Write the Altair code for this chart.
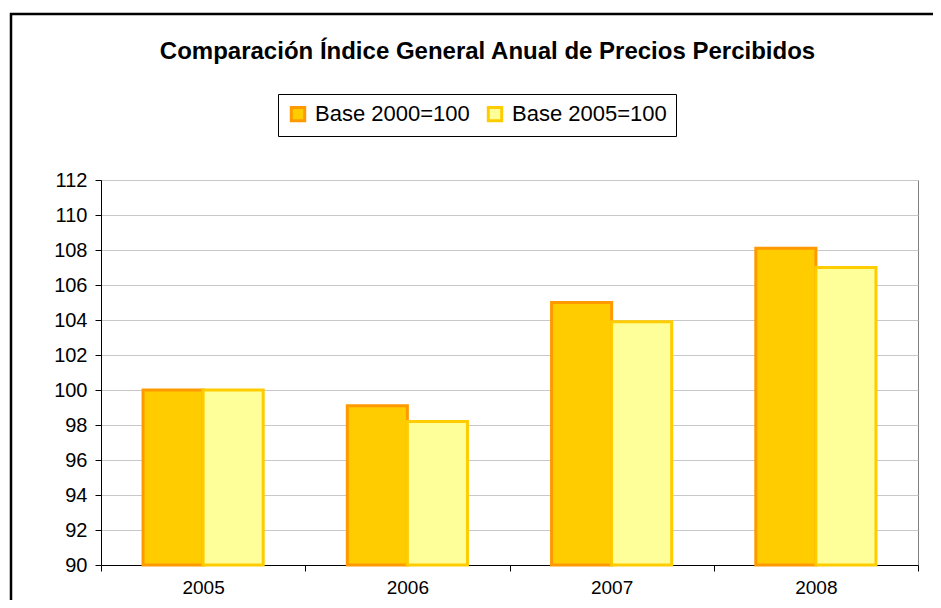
import altair as alt
import pandas as pd

years = ["2005", "2006", "2007", "2008"]
base2000 = [100.0, 99.1, 105.0, 108.1]
base2005 = [100.0, 98.2, 103.9, 107.0]
series_names = ["Base 2000=100", "Base 2005=100"]
fills = ["#FFCC00", "#FFFF99"]
strokes = ["#FF9900", "#FFCC00"]

rows = []
for i, y in enumerate(years):
    rows.append({"year": y, "series": series_names[0], "value": base2000[i]})
    rows.append({"year": y, "series": series_names[1], "value": base2005[i]})
df = pd.DataFrame(rows)

FONT = "Liberation Sans"

legend_kw = dict(title=None, orient="none", legendX=177, legendY=-86,
                 direction="horizontal", strokeColor="black",
                 fillColor="white", padding=9,
                 labelFont=FONT, labelFontSize=22, labelColor="black",
                 symbolType="square", symbolSize=180,
                 symbolStrokeWidth=3, columnPadding=12, labelOffset=6)

bars = alt.Chart(df).mark_bar(strokeWidth=3, clip=False).encode(
    x=alt.X("year:N", sort=years,
            scale=alt.Scale(paddingInner=0, paddingOuter=0),
            axis=alt.Axis(title=None, labelAngle=0, tickBand="extent",
                          domainColor="black", tickColor="black", tickSize=6,
                          labelFont=FONT, labelFontSize=19, labelColor="black",
                          labelPadding=7, grid=False)),
    xOffset=alt.XOffset("series:N", sort=series_names,
                        scale=alt.Scale(paddingOuter=0.7, paddingInner=0)),
    y=alt.Y("value:Q",
            scale=alt.Scale(domain=[90, 112], nice=False, zero=False),
            axis=alt.Axis(title=None, values=list(range(90, 113, 2)),
                          domainColor="black", tickColor="black", tickSize=6,
                          labelFont=FONT, labelFontSize=20, labelColor="black",
                          labelPadding=8, gridColor="#C8C8C8", gridWidth=1)),
    y2=alt.datum(90),
    fill=alt.Fill("series:N", sort=series_names,
                  scale=alt.Scale(domain=series_names, range=fills),
                  legend=alt.Legend(**legend_kw)),
    stroke=alt.Stroke("series:N", sort=series_names,
                      scale=alt.Scale(domain=series_names, range=strokes),
                      legend=alt.Legend(**legend_kw)),
)

frame_df = pd.DataFrame({"k": [0]})
frame = alt.Chart(frame_df).mark_rect(fill=None, stroke="black", strokeWidth=2.5, clip=False).encode(
    x=alt.value(-90), x2=alt.value(1000), y=alt.value(-166), y2=alt.value(600)
)

chart = alt.layer(frame, bars).properties(
    width=817, height=385,
    title=alt.TitleParams("Comparación Índice General Anual de Precios Percibidos",
                          font=FONT, fontSize=24, fontWeight="bold", color="black",
                          anchor="middle", dx=-22, offset=0, baseline="alphabetic", dy=70),
    autosize=alt.AutoSizeParams(type="none"),
    padding={"left": 93, "top": 172, "right": 15, "bottom": 35},
).configure_view(stroke="#808080", strokeWidth=1)

chart.save("out.html", embed_options={"renderer": "svg", "actions": False})
